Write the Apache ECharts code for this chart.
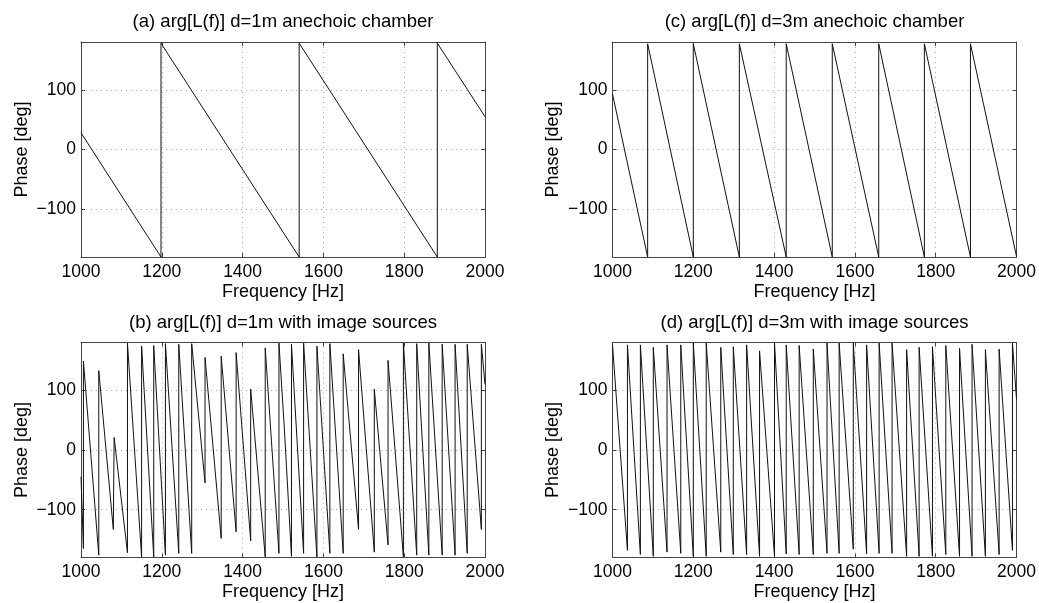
<!DOCTYPE html>
<html>
<head>
<meta charset="utf-8">
<script src="https://cdn.jsdelivr.net/npm/echarts@6/dist/echarts.min.js"></script>
<style>
  html, body { margin: 0; padding: 0; background: #fff; }
  #chart { width: 1039px; height: 603px; }
</style>
</head>
<body>
<div id="chart"></div>
<script>
// (a) d=1m anechoic chamber - corner points of the wrapped phase
var freqA = [1000, 1198, 1198, 1540, 1540, 1882, 1882, 2000];
var phaseA = [28, -180, 178, -180, 178, -180, 178, 55];

// (b) d=1m with image sources
var freqB = [1000, 1006, 1006, 1044, 1044, 1080, 1082, 1115, 1115, 1150, 1150, 1180, 1180, 1209, 1209,
  1242, 1242, 1274, 1274, 1307, 1307, 1347, 1347, 1384, 1384, 1420, 1420, 1456, 1456, 1490, 1490,
  1503, 1521, 1521, 1551, 1551, 1584, 1584, 1616, 1616, 1649, 1649, 1687, 1687, 1726, 1726, 1760,
  1760, 1798, 1798, 1831, 1831, 1861, 1861, 1894, 1894, 1926, 1926, 1956, 1956, 1991, 1991, 2000];
var phaseB = [-45, -165, 149, -176, 133, -133, 21, -172, 179, -179, 174, -179, 175, -176, 178,
  -173, 177, -173, 178, -55, 155, -148, 157, -137, 163, -152, 102, -179, 171, -173, 179,
  40, -178, 177, -173, 179, -179, 174, -173, 178, -173, 161, -133, 168, -171, 102, -159,
  150, -179, 179, -176, 178, -176, 179, -176, 177, -176, 177, -173, 177, -133, 177, 110];

// (c) d=3m anechoic chamber
var freqC = [1000, 1087, 1087, 1200, 1200, 1314, 1314, 1430, 1430, 1544, 1544, 1659, 1659,
  1772, 1772, 1886, 1886, 2000];
var phaseC = [93, -180, 177, -180, 177, -180, 177, -180, 177, -180, 177, -180, 177,
  -180, 177, -180, 177, -179];

// (d) d=3m with image sources
var freqD = [1000, 1037, 1037, 1069, 1069, 1101, 1101, 1135, 1135, 1169, 1169, 1200, 1200,
  1232, 1232, 1268, 1268, 1299, 1299, 1332, 1332, 1364, 1364, 1401, 1401, 1430, 1430,
  1462, 1462, 1497, 1497, 1531, 1531, 1561, 1561, 1596, 1596, 1629, 1629, 1660, 1660,
  1692, 1692, 1728, 1728, 1759, 1759, 1792, 1792, 1825, 1825, 1859, 1859, 1890, 1890,
  1923, 1923, 1957, 1957, 1990, 1990, 2000];
var phaseD = [176, -168, 176, -175, 176, -178, 172, -171, 176, -173, 176, -178, 179,
  -178, 179, -171, 172, -175, 173, -175, 176, -178, 166, -178, 179, -174, 176,
  -175, 175, -175, 169, -173, 179, -173, 179, -166, 179, -174, 176, -173, 179,
  -173, 179, -178, 168, -178, 172, -178, 173, -175, 175, -178, 170, -178, 177,
  -178, 168, -175, 169, -168, 179, 85];

var titles = [
  "(a) arg[L(f)] d=1m anechoic chamber",
  "(b) arg[L(f)] d=1m with image sources",
  "(c) arg[L(f)] d=3m anechoic chamber",
  "(d) arg[L(f)] d=3m with image sources"
];

var font = "'Liberation Sans', Arial, Helvetica, sans-serif";

function pairs(f, p) {
  var out = [];
  for (var i = 0; i < f.length; i++) out.push([f[i], p[i]]);
  return out;
}

var panels = [
  { left: 81, top: 42, freq: freqA, phase: phaseA },
  { left: 81, top: 342.5, freq: freqB, phase: phaseB },
  { left: 612.5, top: 42, freq: freqC, phase: phaseC },
  { left: 612.5, top: 342.5, freq: freqD, phase: phaseD }
];
var W = 404, H = 215;

var grid = [], xAxis = [], yAxis = [], series = [], graphic = [];
var frame = { show: true, onZero: false, lineStyle: { color: "#444", width: 1 } };
var tick = { show: true, inside: true, length: 4, lineStyle: { color: "#444" } };
var dots = { show: true, showMinLine: false, showMaxLine: false,
  lineStyle: { color: "#aaa", width: 1, type: [1, 4] } };

panels.forEach(function (p, i) {
  grid.push({ left: p.left, top: p.top, width: W, height: H });
  // bottom axis with labels
  xAxis.push({
    type: "value", gridIndex: i, min: 1000, max: 2000, interval: 200,
    position: "bottom",
    axisLine: frame, axisTick: tick,
    axisLabel: { fontSize: 17.5, color: "#000", fontFamily: font, margin: 6,
      formatter: function (v) { return String(v); } },
    splitLine: dots,
    name: "Frequency [Hz]", nameLocation: "middle", nameGap: 26,
    nameTextStyle: { fontSize: 18, color: "#000", fontFamily: font }
  });
  // mirror top axis, ticks only
  xAxis.push({
    type: "value", gridIndex: i, min: 1000, max: 2000, interval: 200,
    position: "top",
    axisLine: frame, axisTick: tick,
    axisLabel: { show: false },
    splitLine: { show: false }
  });
  yAxis.push({
    type: "value", gridIndex: i, min: -180, max: 180, splitNumber: 4,
    position: "left",
    axisLine: frame, axisTick: tick,
    axisLabel: {
      fontSize: 17.5, color: "#000", fontFamily: font, margin: 5,
      showMinLabel: false, showMaxLabel: false,
      formatter: function (v) { return String(v).replace("-", "\u2212"); }
    },
    splitLine: dots,
    name: "Phase [deg]", nameLocation: "middle", nameGap: 50, nameRotate: 90,
    nameTextStyle: { fontSize: 18, color: "#000", fontFamily: font }
  });
  yAxis.push({
    type: "value", gridIndex: i, min: -180, max: 180, splitNumber: 4,
    position: "right",
    axisLine: frame, axisTick: tick,
    axisLabel: { show: false },
    splitLine: { show: false }
  });
  series.push({
    type: "line",
    xAxisIndex: 2 * i, yAxisIndex: 2 * i,
    data: pairs(p.freq, p.phase),
    showSymbol: false, symbol: "none",
    lineStyle: { color: "#111", width: 1 },
    silent: true, animation: false
  });
  graphic.push({
    type: "text",
    x: p.left + W / 2, y: p.top - 20,
    style: {
      text: titles[i], fontSize: 18.5, fontFamily: font, fill: "#000",
      textAlign: "center", textVerticalAlign: "middle"
    }
  });
});

var myChart = echarts.init(document.getElementById("chart"));
myChart.setOption({
  animation: false,
  backgroundColor: "#fff",
  grid: grid,
  xAxis: xAxis,
  yAxis: yAxis,
  series: series,
  graphic: graphic
});
window.addEventListener("resize", function () {
  myChart.resize();
});
</script>
</body>
</html>
